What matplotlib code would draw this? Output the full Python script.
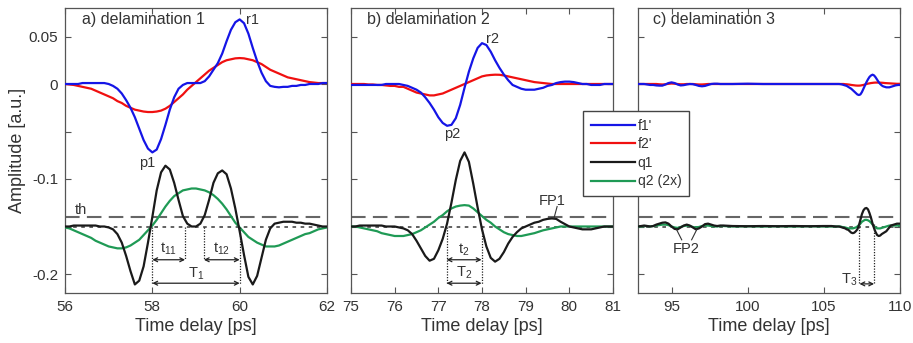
import matplotlib
matplotlib.use('Agg')
import matplotlib.pyplot as plt
from matplotlib.lines import Line2D

plt.rcParams['font.family'] = ['Liberation Sans', 'DejaVu Sans']

# ---------------- data ----------------
t_a = [56.0, 56.1, 56.2, 56.3, 56.4, 56.5, 56.6, 56.7, 56.8, 56.9,
       57.0, 57.1, 57.2, 57.3, 57.4, 57.5, 57.6, 57.7, 57.8, 57.9,
       58.0, 58.1, 58.2, 58.3, 58.4, 58.5, 58.6, 58.7, 58.8, 58.9,
       59.0, 59.1, 59.2, 59.3, 59.4, 59.5, 59.6, 59.7, 59.8, 59.9,
       60.0, 60.1, 60.2, 60.3, 60.4, 60.5, 60.6, 60.7, 60.8, 60.9,
       61.0, 61.1, 61.2, 61.3, 61.4, 61.5, 61.6, 61.7, 61.8, 61.9, 62.0]
f1_a = [0.000, 0.000, 0.000, 0.000, 0.001, 0.001, 0.001, 0.001, 0.001, 0.001,
        0.000, -0.002, -0.005, -0.010, -0.017, -0.025, -0.035, -0.047, -0.059, -0.068,
        -0.072, -0.069, -0.058, -0.043, -0.027, -0.014, -0.005, -0.001, 0.001, 0.001,
        0.001, 0.001, 0.003, 0.008, 0.015, 0.022, 0.032, 0.045, 0.057, 0.065,
        0.068, 0.064, 0.053, 0.038, 0.024, 0.012, 0.003, -0.002, -0.003, -0.0035,
        -0.003, -0.003, -0.002, -0.002, -0.001, -0.001, 0.000, 0.000, 0.000, 0.001, 0.001]
f2_a = [0.000, -0.0005, -0.001, -0.002, -0.003, -0.004, -0.005, -0.007, -0.009, -0.011,
        -0.013, -0.015, -0.018, -0.020, -0.023, -0.025, -0.027, -0.028, -0.029, -0.0295,
        -0.0295, -0.029, -0.028, -0.026, -0.023, -0.019, -0.015, -0.011, -0.006, -0.002,
        0.002, 0.006, 0.010, 0.014, 0.017, 0.020, 0.023, 0.025, 0.026, 0.027,
        0.0273, 0.027, 0.026, 0.025, 0.023, 0.021, 0.018, 0.015, 0.013, 0.011,
        0.009, 0.007, 0.006, 0.005, 0.004, 0.003, 0.002, 0.0015, 0.001, 0.001, 0.001]
q1_a = [-0.150, -0.150, -0.149, -0.149, -0.149, -0.149, -0.149, -0.149, -0.150, -0.150,
        -0.151, -0.153, -0.158, -0.167, -0.181, -0.197, -0.211, -0.207, -0.192, -0.167,
        -0.140, -0.112, -0.093, -0.086, -0.090, -0.104, -0.122, -0.139, -0.147, -0.150,
        -0.150, -0.147, -0.138, -0.122, -0.104, -0.094, -0.091, -0.095, -0.110, -0.131,
        -0.155, -0.180, -0.203, -0.211, -0.202, -0.183, -0.164, -0.152, -0.147, -0.146,
        -0.145, -0.145, -0.145, -0.146, -0.146, -0.147, -0.147, -0.148, -0.149, -0.150, -0.150]
q2_a = [-0.151, -0.152, -0.154, -0.156, -0.158, -0.160, -0.162, -0.165, -0.167, -0.169,
        -0.171, -0.172, -0.173, -0.173, -0.172, -0.170, -0.167, -0.164, -0.159, -0.154,
        -0.149, -0.143, -0.136, -0.129, -0.123, -0.118, -0.115, -0.112, -0.111, -0.110,
        -0.110, -0.111, -0.112, -0.114, -0.117, -0.121, -0.126, -0.132, -0.139, -0.146,
        -0.151, -0.156, -0.161, -0.164, -0.167, -0.169, -0.171, -0.171, -0.171, -0.170,
        -0.168, -0.166, -0.164, -0.162, -0.160, -0.158, -0.157, -0.155, -0.153, -0.152, -0.151]

t_b = [75.0, 75.1, 75.2, 75.3, 75.4, 75.5, 75.6, 75.7, 75.8, 75.9,
       76.0, 76.1, 76.2, 76.3, 76.4, 76.5, 76.6, 76.7, 76.8, 76.9,
       77.0, 77.1, 77.2, 77.3, 77.4, 77.5, 77.6, 77.7, 77.8, 77.9,
       78.0, 78.1, 78.2, 78.3, 78.4, 78.5, 78.6, 78.7, 78.8, 78.9,
       79.0, 79.1, 79.2, 79.3, 79.4, 79.5, 79.6, 79.7, 79.8, 79.9,
       80.0, 80.1, 80.2, 80.3, 80.4, 80.5, 80.6, 80.7, 80.8, 80.9, 81.0]
f1_b = [-0.001, -0.001, -0.001, -0.001, -0.001, -0.001, -0.001, -0.001, 0.000, 0.000,
        0.000, 0.000, -0.001, -0.002, -0.004, -0.006, -0.009, -0.014, -0.020, -0.027,
        -0.035, -0.041, -0.044, -0.043, -0.036, -0.022, -0.004, 0.013, 0.027, 0.038,
        0.043, 0.041, 0.034, 0.025, 0.017, 0.010, 0.004, -0.001, -0.003, -0.005,
        -0.006, -0.006, -0.006, -0.005, -0.004, -0.002, -0.001, 0.001, 0.002, 0.0025,
        0.0025, 0.002, 0.001, 0.000, 0.000, -0.001, -0.001, -0.001, 0.000, 0.000, 0.000]
f2_b = [0.000, 0.000, 0.000, 0.000, -0.0005, -0.0005, -0.001, -0.001, -0.0015, -0.002,
        -0.002, -0.003, -0.003, -0.005, -0.007, -0.009, -0.010, -0.011, -0.012, -0.012,
        -0.011, -0.010, -0.008, -0.006, -0.004, -0.002, 0.000, 0.002, 0.004, 0.006,
        0.008, 0.009, 0.0095, 0.0098, 0.0097, 0.009, 0.008, 0.007, 0.006, 0.005,
        0.004, 0.003, 0.002, 0.0015, 0.001, 0.0005, 0.000, 0.000, 0.000, 0.000,
        0.000, 0.000, 0.000, 0.000, 0.000, 0.000, 0.000, 0.000, 0.000, 0.000, 0.000]
q1_b = [-0.150, -0.150, -0.149, -0.149, -0.149, -0.149, -0.149, -0.149, -0.150, -0.150,
        -0.150, -0.151, -0.152, -0.154, -0.158, -0.165, -0.173, -0.181, -0.186, -0.184,
        -0.175, -0.163, -0.147, -0.125, -0.101, -0.081, -0.072, -0.082, -0.105, -0.130,
        -0.153, -0.171, -0.183, -0.187, -0.184, -0.177, -0.168, -0.161, -0.156, -0.152,
        -0.150, -0.148, -0.146, -0.145, -0.143, -0.142, -0.1415, -0.142, -0.145, -0.1475,
        -0.150, -0.151, -0.152, -0.153, -0.153, -0.153, -0.152, -0.151, -0.150, -0.150, -0.150]
q2_b = [-0.150, -0.150, -0.151, -0.152, -0.153, -0.154, -0.155, -0.157, -0.158, -0.159,
        -0.160, -0.160, -0.160, -0.159, -0.158, -0.156, -0.154, -0.151, -0.148, -0.145,
        -0.141, -0.138, -0.134, -0.131, -0.129, -0.128, -0.1275, -0.128, -0.131, -0.135,
        -0.139, -0.143, -0.146, -0.150, -0.153, -0.156, -0.158, -0.159, -0.160, -0.160,
        -0.159, -0.158, -0.157, -0.1555, -0.154, -0.153, -0.152, -0.151, -0.150, -0.150,
        -0.150, -0.150, -0.150, -0.150, -0.150, -0.150, -0.150, -0.150, -0.150, -0.150, -0.150]

t_c = [92.8, 93.0, 93.2, 93.4, 93.6, 93.8, 94.0, 94.2, 94.4, 94.6,
       94.8, 95.0, 95.2, 95.4, 95.6, 95.8, 96.0, 96.2, 96.4, 96.6,
       96.8, 97.0, 97.2, 97.4, 97.6, 97.8, 98.0, 98.2, 98.4,
       99.0, 100.0, 101.0, 102.0, 103.0, 104.0, 105.0, 105.5, 105.8,
       106.0, 106.1, 106.2, 106.3, 106.4, 106.5, 106.6, 106.7, 106.8, 106.9,
       107.0, 107.1, 107.2, 107.3, 107.4, 107.5, 107.6, 107.7, 107.8, 107.9,
       108.0, 108.1, 108.2, 108.3, 108.4, 108.5, 108.6, 108.7, 108.8, 108.9,
       109.0, 109.1, 109.2, 109.3, 109.4, 109.5, 109.6, 109.7, 109.8, 109.9, 110.0]
f1_c = [0.000, 0.000, 0.000, -0.0005, -0.001, -0.001, -0.0015, -0.0017, -0.0017, -0.0005,
        0.001, 0.0017, 0.001, -0.0005, -0.0015, -0.0012, -0.0005, 0.000, -0.0002, -0.001,
        -0.002, -0.0024, -0.002, -0.001, 0.000, 0.0003, 0.0003, 0.000, 0.000,
        0.000, 0.0003, 0.000, 0.000, 0.000, 0.000, 0.000, 0.000, 0.000,
        0.000, -0.0002, -0.0005, -0.001, -0.0015, -0.002, -0.003, -0.004, -0.005, -0.0065,
        -0.008, -0.0095, -0.011, -0.0116, -0.011, -0.0085, -0.005, -0.0015, 0.002, 0.005,
        0.0075, 0.009, 0.0098, 0.009, 0.007, 0.0045, 0.002, 0.000, -0.0015, -0.0025,
        -0.003, -0.0035, -0.0035, -0.0035, -0.003, -0.0025, -0.002, -0.0015, -0.0012, -0.001, -0.001]
f2_c = [0.000, 0.000, 0.000, 0.000, 0.000, 0.000, 0.000, -0.0003, -0.0005, -0.0003,
        0.0002, 0.0005, 0.0003, 0.000, -0.0003, -0.0003, 0.000, 0.000, 0.000, -0.0003,
        -0.0005, -0.0005, -0.0003, 0.000, 0.000, 0.000, 0.000, 0.000, 0.000,
        0.000, 0.000, 0.000, 0.000, 0.000, 0.000, 0.000, 0.000, 0.000,
        0.000, 0.000, 0.000, 0.000, -0.0002, -0.0003, -0.0005, -0.0007, -0.001, -0.0012,
        -0.0014, -0.0016, -0.0017, -0.0017, -0.0016, -0.0013, -0.001, -0.0005, 0.000, 0.0004,
        0.0007, 0.001, 0.0012, 0.0014, 0.0015, 0.0015, 0.0015, 0.0014, 0.0013, 0.0012,
        0.001, 0.0009, 0.0008, 0.0007, 0.0006, 0.0005, 0.0004, 0.0003, 0.0002, 0.0002, 0.0002]
q1_c = [-0.150, -0.1495, -0.149, -0.1495, -0.150, -0.1495, -0.148, -0.147, -0.146, -0.1457,
        -0.147, -0.150, -0.1525, -0.153, -0.151, -0.149, -0.148, -0.149, -0.151, -0.153,
        -0.152, -0.150, -0.1475, -0.147, -0.148, -0.149, -0.1495, -0.149, -0.149,
        -0.1495, -0.1497, -0.1495, -0.1497, -0.1495, -0.1497, -0.1495, -0.1495, -0.150,
        -0.150, -0.1505, -0.151, -0.1515, -0.152, -0.153, -0.1535, -0.155, -0.1565, -0.157,
        -0.1565, -0.155, -0.153, -0.149, -0.143, -0.137, -0.133, -0.131, -0.1305, -0.132,
        -0.136, -0.141, -0.147, -0.152, -0.156, -0.159, -0.160, -0.1595, -0.158, -0.157,
        -0.156, -0.155, -0.153, -0.151, -0.149, -0.1485, -0.148, -0.1475, -0.147, -0.147, -0.147]
q2_c = [-0.150, -0.150, -0.1495, -0.1495, -0.150, -0.1495, -0.149, -0.1485, -0.148, -0.148,
        -0.1485, -0.150, -0.151, -0.1515, -0.1505, -0.1495, -0.149, -0.1495, -0.1505, -0.151,
        -0.1505, -0.1495, -0.149, -0.149, -0.1495, -0.150, -0.150, -0.1495, -0.1495,
        -0.150, -0.1498, -0.150, -0.1498, -0.150, -0.1498, -0.150, -0.150, -0.150,
        -0.150, -0.150, -0.1505, -0.151, -0.151, -0.1515, -0.152, -0.152, -0.152, -0.152,
        -0.1515, -0.151, -0.150, -0.1485, -0.147, -0.145, -0.144, -0.143, -0.143, -0.1435,
        -0.1445, -0.146, -0.148, -0.150, -0.151, -0.152, -0.152, -0.152, -0.1515, -0.151,
        -0.1505, -0.150, -0.1495, -0.149, -0.149, -0.149, -0.149, -0.149, -0.149, -0.149, -0.149]

series_labels = ["f1'", "f2'", "q1", "q2 (2x)"]
panel_titles = ["a) delamination 1", "b) delamination 2", "c) delamination 3"]
threshold = -0.14
baseline = -0.15
yticks = [-0.2, -0.15, -0.1, -0.05, 0, 0.05]
yticklabels = ['-0.2', '', '-0.1', '', '0', '0.05']
xticks_a = [56, 58, 60, 62]
xticks_b = [75, 76, 77, 78, 79, 80, 81]
xticks_c = [95, 100, 105, 110]

# ---------------- style ----------------
C_BLUE = '#1515e6'
C_RED = '#f01010'
C_BLACK = '#1a1a1a'
C_GREEN = '#1f9a55'
C_TEXT = '#333333'
W, H = 913, 343

fig = plt.figure(figsize=(W / 100, H / 100), dpi=100)

def make_ax(left_px, xlim, xticks):
    ax = fig.add_axes([left_px / W, (H - 293) / H, 262 / W, 285 / H])
    ax.set_xlim(*xlim)
    ax.set_ylim(-0.22, 0.08)
    ax.set_xticks(xticks)
    ax.set_yticks(yticks)
    ax.tick_params(direction='in', top=True, right=True, length=4, width=0.8,
                   colors='#555555', labelcolor=C_TEXT, labelsize=11, pad=5)
    for s in ax.spines.values():
        s.set_color('#555555')
        s.set_linewidth(0.9)
    ax.set_xlabel('Time delay [ps]', fontsize=13, color=C_TEXT, labelpad=3)
    ax.axhline(threshold, color='#666666', lw=1.5, dashes=(7, 3.5), zorder=1)
    ax.axhline(baseline, color='#555555', lw=1.3, dashes=(2, 2.5), zorder=1)
    return ax

ax_a = make_ax(65, (56, 62), xticks_a)
ax_b = make_ax(351, (75, 81), xticks_b)
ax_c = make_ax(638, (92.8, 110), xticks_c)

ax_a.set_yticklabels(yticklabels)
ax_a.set_ylabel('Amplitude [a.u.]', fontsize=13, color=C_TEXT, labelpad=2)
ax_b.set_yticklabels([])
ax_c.set_yticklabels([])

lw = 1.6
for ax, t, f1, f2, q1, q2 in [(ax_a, t_a, f1_a, f2_a, q1_a, q2_a),
                              (ax_b, t_b, f1_b, f2_b, q1_b, q2_b),
                              (ax_c, t_c, f1_c, f2_c, q1_c, q2_c)]:
    ax.plot(t, q2, color=C_GREEN, lw=lw, zorder=3)
    ax.plot(t, q1, color=C_BLACK, lw=lw, zorder=4)
    ax.plot(t, f2, color=C_RED, lw=lw, zorder=3)
    ax.plot(t, f1, color=C_BLUE, lw=lw, zorder=4)

tfs = 11.5
afs = 10.5
ax_a.text(56.38, 0.068, panel_titles[0], fontsize=tfs, color=C_TEXT, va='center')
ax_b.text(75.36, 0.068, panel_titles[1], fontsize=tfs, color=C_TEXT, va='center')
ax_c.text(93.8, 0.068, panel_titles[2], fontsize=tfs, color=C_TEXT, va='center')

def dim(ax, x1, x2, y, label, ly, lx=None, ha='center'):
    ax.annotate('', xy=(x2, y), xytext=(x1, y),
                arrowprops=dict(arrowstyle='<->', lw=0.9, color='#222222',
                                shrinkA=0, shrinkB=0, mutation_scale=7), zorder=5)
    if lx is None:
        lx = (x1 + x2) / 2
    ax.text(lx, ly, label, fontsize=afs, color=C_TEXT, ha=ha, va='center')

def vdot(ax, x, y1, y2):
    ax.plot([x, x], [y1, y2], color='#222222', lw=0.9, ls=(0, (1, 1.2)), zorder=5)

# panel a annotations
ax_a.text(60.15, 0.067, 'r1', fontsize=afs, color=C_TEXT, va='center')
ax_a.text(57.88, -0.083, 'p1', fontsize=afs, color=C_TEXT, ha='center', va='center')
ax_a.text(56.37, -0.133, 'th', fontsize=afs, color=C_TEXT, ha='center', va='center')
vdot(ax_a, 58.0, -0.15, -0.21)
vdot(ax_a, 60.0, -0.15, -0.21)
vdot(ax_a, 58.75, -0.15, -0.185)
vdot(ax_a, 59.18, -0.15, -0.185)
dim(ax_a, 58.0, 58.75, -0.185, r'$\mathregular{t_{11}}$', -0.174)
dim(ax_a, 59.18, 60.0, -0.185, r'$\mathregular{t_{12}}$', -0.174)
dim(ax_a, 58.0, 60.0, -0.2097, r'$\mathregular{T_1}$', -0.2)

# panel b annotations
ax_b.text(78.1, 0.047, 'r2', fontsize=afs, color=C_TEXT, va='center')
ax_b.text(77.32, -0.053, 'p2', fontsize=afs, color=C_TEXT, ha='center', va='center')
ax_b.text(79.6, -0.123, 'FP1', fontsize=afs, color=C_TEXT, ha='center', va='center')
ax_b.plot([79.72, 79.65], [-0.129, -0.141], color='#333333', lw=0.8, zorder=5)
vdot(ax_b, 77.19, -0.15, -0.21)
vdot(ax_b, 77.99, -0.15, -0.21)
dim(ax_b, 77.19, 77.99, -0.185, r'$\mathregular{t_2}$', -0.175)
dim(ax_b, 77.19, 77.99, -0.2097, r'$\mathregular{T_2}$', -0.199)

# panel c annotations
ax_c.text(95.95, -0.174, 'FP2', fontsize=afs, color=C_TEXT, ha='center', va='center')
ax_c.plot([95.67, 95.34], [-0.164, -0.1535], color='#333333', lw=0.8, zorder=5)
ax_c.plot([96.32, 96.65], [-0.164, -0.1535], color='#333333', lw=0.8, zorder=5)
vdot(ax_c, 107.34, -0.147, -0.2104)
vdot(ax_c, 108.3, -0.147, -0.2104)
dim(ax_c, 107.34, 108.3, -0.2104, r'$\mathregular{T_3}$', -0.206, lx=107.2, ha='right')

# legend
handles = [Line2D([], [], color=c, lw=lw) for c in (C_BLUE, C_RED, C_BLACK, C_GREEN)]
leg = fig.legend(handles, series_labels, loc='upper left',
                 bbox_to_anchor=(583 / W, 1 - 111 / H), bbox_transform=fig.transFigure,
                 frameon=True, fancybox=False, edgecolor='#444444', framealpha=1,
                 fontsize=10, handlelength=3.2, handletextpad=0.2, labelspacing=0.33,
                 borderpad=0.55, borderaxespad=0)
leg.get_frame().set_linewidth(1.0)
for txt in leg.get_texts():
    txt.set_color(C_TEXT)
leg.set_zorder(10)

fig.savefig('out.png', dpi=100)
